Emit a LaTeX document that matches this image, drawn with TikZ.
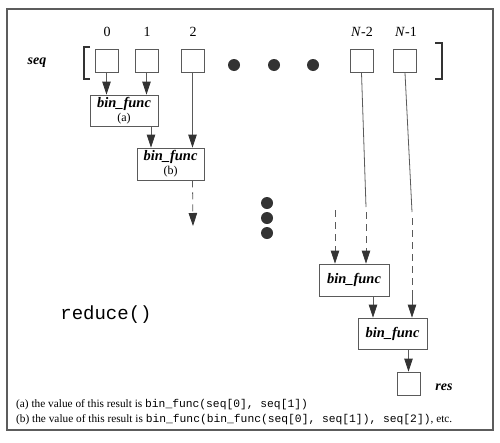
\documentclass[tikz,border=0pt]{standalone}
\usepackage{fontspec}
\setmainfont{Liberation Serif}
\setmonofont{Liberation Mono}
\usetikzlibrary{arrows.meta}
\definecolor{lin}{HTML}{5A5A5A}
\definecolor{dk}{HTML}{333333}
\tikzset{
  cell/.style={draw=lin, fill=white, line width=0.8pt, minimum width=23pt, minimum height=23pt, inner sep=0pt},
  func/.style={draw=lin, fill=white, line width=0.8pt, inner sep=0pt, align=center, font=\fontsize{14.5}{14}\selectfont\bfseries\itshape},
  idx/.style={font=\fontsize{14}{16}\selectfont},
  lbl/.style={font=\fontsize{14}{16}\selectfont\bfseries\itshape},
  arr/.style={draw=lin, line width=0.8pt, -{Triangle[length=13pt,width=8.5pt,fill=dk,color=dk]}},
  wire/.style={draw=lin, line width=0.8pt},
  dsh/.style={dash pattern=on 7pt off 5pt},
  dot/.style={fill=dk},
  brk/.style={draw=dk, line width=2pt},
  note/.style={anchor=base west, inner sep=0pt, font=\fontsize{11.3}{13}\selectfont},
}
\begin{document}
\begin{tikzpicture}[x=1pt,y=-1pt]
\useasboundingbox (0,0) rectangle (500,442);
\draw[draw=dk!80, line width=1.5pt] (7,9) rectangle (493,430);
% sequence
\node[lbl] (seq) at (37,63) {seq};
\draw[brk] (90,47) -- (84,47) -- (84,79) -- (90,79);
\draw[brk] (435,43) -- (442,43) -- (442,79) -- (435,79);
\node[cell] (c0) at (106.5,60.5) {};
\node[cell] (c1) at (146.5,60.5) {};
\node[cell] (c2) at (192.5,60.5) {};
\node[cell] (cn2) at (361.5,61) {};
\node[cell] (cn1) at (405,61) {};
\node[idx] (l0) at (107,32) {0};
\node[idx] (l1) at (147,32) {1};
\node[idx] (l2) at (193,32) {2};
\node[idx] (ln2) at (362,32) {\textit{N}-2};
\node[idx] (ln1) at (406,32) {\textit{N}-1};
\fill[dot] (234,65) circle (6);
\fill[dot] (274,65) circle (6);
\fill[dot] (313,65) circle (6);
\fill[dot] (267,203) circle (6);
\fill[dot] (267,218) circle (6);
\fill[dot] (267,233) circle (6);
% function boxes
\node[func, minimum width=68pt, minimum height=31pt] (fa) at (124,110.5) {bin\_func\\[0pt]{\fontsize{12}{12}\selectfont\mdseries\upshape (a)}};
\node[func, minimum width=67pt, minimum height=32pt] (fb) at (170.5,164) {bin\_func\\[0pt]{\fontsize{12}{12}\selectfont\mdseries\upshape (b)}};
\node[func, minimum width=70pt, minimum height=32pt] (fc) at (354,280) {bin\_func};
\node[func, minimum width=69pt, minimum height=31pt] (fd) at (392.5,333.5) {bin\_func};
\node[cell] (res) at (408.5,383.5) {};
\node[lbl] (reslbl) at (444,387) {res};
% connectors, left part
\draw[arr] (c0.south) -- (c0.south |- fa.north);
\draw[arr] (c1.south) -- (c1.south |- fa.north);
\draw[arr] ([xshift=27pt]fa.south) -- ([xshift=27pt]fa.south |- fb.north);
\draw[arr] (c2.south) -- (c2.south |- fb.north);
\coordinate (bend) at (193,226);
\draw[arr, dsh] (c2.south |- fb.south) -- (bend);
% connectors, right part
\coordinate (n2a) at (366,207);
\coordinate (n2b) at (366,212);
\coordinate (la) at (335,210);
\coordinate (n1a) at (412,212);
\coordinate (n1b) at (412,218);
\coordinate (n1c) at (412,292);
\draw[wire] (cn2.south) -- (n2a);
\draw[arr, dsh] (n2b) -- (n2b |- fc.north);
\draw[arr, dsh] (la) -- (la |- fc.north);
\draw[wire] (cn1.south) -- (n1a);
\draw[wire, dsh] (n1b) -- (n1c);
\draw[arr] (n1c) -- (n1c |- fd.north);
\draw[arr] ([xshift=19pt]fc.south) -- ([xshift=19pt]fc.south |- fd.north);
\draw[arr] (fd.south -| res.north) -- (res.north);
% texts
\node[font=\fontsize{19}{20}\ttfamily] (red) at (106,315) {reduce()};
\node[note] (na) at (16,407) {(a) the value of this result is \texttt{bin\_func(seq[0], seq[1])}};
\node[note] (nb) at (16,422) {(b) the value of this result is \texttt{bin\_func(bin\_func(seq[0], seq[1]), seq[2])}, etc.};
\end{tikzpicture}
\end{document}
